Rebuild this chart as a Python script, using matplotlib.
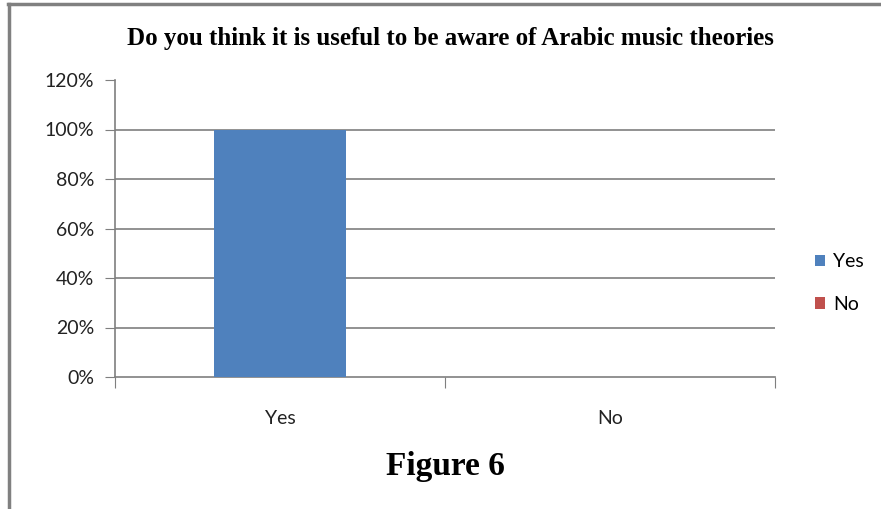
import matplotlib
matplotlib.use('Agg')
from matplotlib import pyplot as plt
from matplotlib.patches import Patch
from matplotlib.lines import Line2D

categories = ['Yes', 'No']
values = [100, 0]
colors = ['#4F81BD', '#C0504D']
yticks = [0, 20, 40, 60, 80, 100, 120]
title = 'Do you think it is useful to be aware of Arabic music theories'
caption = 'Figure 6'

plt.rcParams['font.family'] = ['Lato', 'DejaVu Sans']

fig = plt.figure(figsize=(8.81, 5.09), dpi=100)
ax = fig.add_axes([115/881, 132/509, 660/881, 297/509])

x = list(range(len(categories)))
ax.bar(x, values, width=0.4, color=colors, zorder=3)

ax.set_xlim(-0.5, len(categories) - 0.5)
ax.set_ylim(0, 120)
ax.set_yticks(yticks)
ax.set_yticklabels([f'{v}%' for v in yticks], fontsize=14, color='#222222')
for v in yticks[1:-1]:
    ax.axhline(v, color='#7f7f7f', lw=1.2, zorder=1)

ax.set_xticks([-0.5, 0.5, 1.5])
ax.set_xticklabels([])
ax.set_xticks(x, minor=True)
ax.set_xticklabels(categories, minor=True, fontsize=14, color='#222222')
ax.tick_params(axis='x', which='major', length=8, color='#7f7f7f', direction='out')
ax.tick_params(axis='x', which='minor', length=0, pad=24)
ax.tick_params(axis='y', length=7, color='#7f7f7f', pad=8)

for s in ['top', 'right']:
    ax.spines[s].set_visible(False)
for s in ['left', 'bottom']:
    ax.spines[s].set_color('#7f7f7f')
    ax.spines[s].set_linewidth(1.2)

handles = [Patch(facecolor=c) for c in colors]
fig.legend(handles, categories, loc='center left', bbox_to_anchor=(797/881, 1 - 283/509),
           frameon=False, fontsize=14, handlelength=0.55, handleheight=0.55,
           handletextpad=0.4, labelspacing=1.3)

fig.text(450/881, 1 - 38/509, title, ha='center', va='center',
         family='Liberation Serif', fontweight='bold', fontsize=18)
fig.text(445/881, 1 - 467/509, caption, ha='center', va='center',
         family='Liberation Serif', fontweight='bold', fontsize=24)

# page frame lines on top and left
fig.add_artist(Line2D([8/881, 1], [1 - 4/509, 1 - 4/509], color='#808080', lw=2.5))
fig.add_artist(Line2D([9/881, 9/881], [0, 1 - 4/509], color='#808080', lw=2.5))

fig.savefig('out.png', dpi=100)
